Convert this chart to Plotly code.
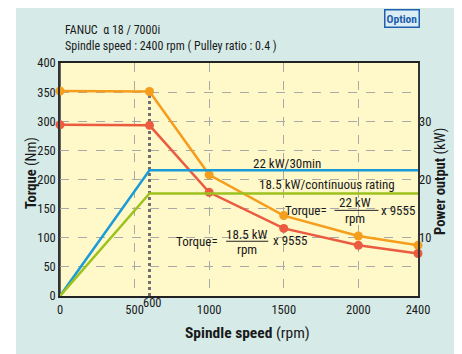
import plotly.graph_objects as go

# ---- data ----
speed = [0, 600, 1000, 1500, 2000, 2400]
torque_30min = [352, 351, 208, 138, 103, 87]
torque_cont = [294, 293, 178, 116, 87, 73]
power_speed = [0, 600, 2400]
power_30min = [0, 21.6, 21.6]
power_cont = [0, 17.6, 17.6]
base_speed = [600, 600]
base_line = [0, 351]
x_ticks = [0, 500, 1000, 1500, 2000, 2400]
y_ticks = [0, 50, 100, 150, 200, 250, 300, 350, 400]
y2_ticks = [10, 20, 30]

FONT = "Liberation Sans Narrow, Arial Narrow, Roboto Condensed, Liberation Sans, sans-serif"
ORANGE = "#F59D1C"
RED = "#EA5B40"
BLUE = "#1B9CD8"
GREEN = "#9DC21E"

fig = go.Figure()
fig.add_trace(go.Scatter(x=base_speed, y=base_line, mode="lines",
                         line=dict(color="#707070", width=3, dash="dot"), hoverinfo="skip"))
fig.add_trace(go.Scatter(x=power_speed, y=power_30min, yaxis="y2", mode="lines",
                         line=dict(color=BLUE, width=2.5)))
fig.add_trace(go.Scatter(x=power_speed, y=power_cont, yaxis="y2", mode="lines",
                         line=dict(color=GREEN, width=2.5)))
fig.add_trace(go.Scatter(x=speed, y=torque_30min, mode="lines+markers",
                         line=dict(color=ORANGE, width=2.5),
                         marker=dict(color=ORANGE, size=9), cliponaxis=False))
fig.add_trace(go.Scatter(x=speed, y=torque_cont, mode="lines+markers",
                         line=dict(color=RED, width=2.5),
                         marker=dict(color=RED, size=9), cliponaxis=False))

# page is drawn with an 8px body offset
OFF = 8
W, H = 462 - OFF, 354 - OFF
PL, PR, PT, PB = 60, 418, 63, 296  # plot area in page pixels
L, T = PL - OFF, PT - OFF
R = W - L - (PR - PL)
B = H - T - (PB - PT)
pw, ph = PR - PL, PB - PT

def px(xp):
    return (xp - PL) / pw

def py(yp):
    return (PB - yp) / ph

shapes = [
    dict(type="rect", xref="paper", yref="paper", x0=px(16), x1=px(456), y0=py(2), y1=py(370),
         fillcolor="#D6EBE8", line=dict(width=0), layer="below"),
    dict(type="rect", xref="paper", yref="paper", x0=0, x1=1, y0=0, y1=1,
         fillcolor="#FFF8C9", line=dict(width=0), layer="below"),
    # fraction bars
    dict(type="line", xref="x", yref="y", x0=1840, x1=2135, y0=147, y1=147, line=dict(color="#222", width=1)),
    dict(type="line", xref="x", yref="y", x0=1114, x1=1396, y0=94, y1=94, line=dict(color="#222", width=1)),
    # left frame edge (grey, thicker)
    dict(type="line", xref="paper", yref="paper", x0=0, x1=0, y0=0, y1=1, line=dict(color="#666", width=2),
         layer="below"),
]

ann = []
def a(x, y, text, size=13, xref="x", yref="y", xanchor="center", yanchor="middle", **kw):
    d = dict(x=x, y=y, xref=xref, yref=yref, text=text, showarrow=False,
             xanchor=xanchor, yanchor=yanchor,
             font=dict(family=FONT, size=size, color="#1a1a1a"))
    d.update(kw)
    ann.append(d)

a(1523, 228, "22 kW/30min")
a(1792, 192, "18.5 kW/continuous rating")
a(1650, 146, "Torque=")
a(1975, 160, "22 kW")
a(1975, 133, "rpm")
a(2268, 146, "x 9555")
a(919, 93, "Torque=")
a(1255, 105, "18.5 kW")
a(1255, 80, "rpm")
a(1544, 96, "x 9555")
a(621, py(302.5), "600", yref="paper", size=12.5)
a(px(63), py(30), "FANUC  α 18 / 7000i", xref="paper", yref="paper", xanchor="left", size=12)
a(px(63), py(46), "Spindle speed : 2400 rpm ( Pulley ratio : 0.4 )", xref="paper", yref="paper",
  xanchor="left", size=12)
a(px(402), py(18), "<b>Option</b>", xref="paper", yref="paper", size=11.5,
  bordercolor="#1f5fae", borderwidth=1.5, bgcolor="#DCEEF5", borderpad=1)
ann[-1]["font"]["color"] = "#1f5fae"
a(px(31), py(173), "<b>Torque</b> (Nm)", xref="paper", yref="paper", size=14.5, textangle=-90)
a(px(440), py(182), "<b>Power output</b> (kW)", xref="paper", yref="paper", size=14.5, textangle=-90)
a(px(247), py(333), "<b>Spindle speed</b> (rpm)", xref="paper", yref="paper", size=15.5)

fig.update_layout(
    width=W, height=H,
    margin=dict(l=L, r=R, t=T, b=B, autoexpand=False),
    paper_bgcolor="white",
    plot_bgcolor="rgba(0,0,0,0)",
    showlegend=False,
    font=dict(family=FONT, size=12.5, color="#1a1a1a"),
    xaxis=dict(range=[0, 2400], tickvals=x_ticks, ticktext=[str(v) for v in x_ticks],
               showgrid=True, gridcolor="#a9a9a9", griddash="dash", gridwidth=1,
               showline=True, mirror=True, linecolor="#222", linewidth=1.5,
               ticks="", zeroline=False, ticklabelstandoff=1,
               tickfont=dict(size=12.5)),
    yaxis=dict(range=[0, 400], tickvals=y_ticks,
               showgrid=True, gridcolor="#a9a9a9", griddash="dash", gridwidth=1,
               showline=True, mirror=True, linecolor="#333", linewidth=1.5,
               ticks="", zeroline=False, ticklabelstandoff=0,
               tickfont=dict(size=12.5)),
    yaxis2=dict(range=[0, 40], tickvals=y2_ticks, overlaying="y", side="right",
                showgrid=False, zeroline=False, showline=False, ticks="",
                tickfont=dict(size=12.5)),
    shapes=shapes,
    annotations=ann,
)

fig.write_html("out.html")
